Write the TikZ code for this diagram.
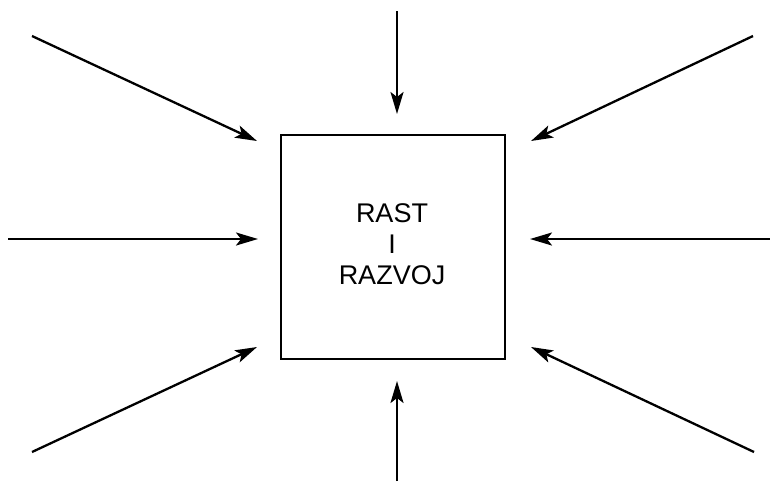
\documentclass[tikz,border=0pt]{standalone}
\usepackage{fontspec}
\setmainfont{Liberation Sans}
\usetikzlibrary{arrows.meta}
\begin{document}
\begin{tikzpicture}[x=1pt,y=-1pt,
  arr/.style={line width=2.3pt,-{Stealth[length=22pt,width=13pt,inset=5pt]}},
  box/.style={draw,line width=2.4pt,minimum width=224pt,minimum height=224pt,inner sep=0pt},
  lbl/.style={font=\fontsize{27}{31}\selectfont,align=center,inner sep=0pt}]
\useasboundingbox (0,0) rectangle (770,483);
\node[box] (b) at (393,247) {};
\node[lbl] (t) at (392,244) {RAST\\I\\RAZVOJ};
\coordinate (s1) at (32,36);   \coordinate (t1) at (257,141);
\coordinate (s2) at (397,11);  \coordinate (t2) at (397,114);
\coordinate (s3) at (753,36);  \coordinate (t3) at (531,141);
\coordinate (s4) at (8,239);   \coordinate (t4) at (258,239);
\coordinate (s5) at (770,239); \coordinate (t5) at (530,239);
\coordinate (s6) at (32,452);  \coordinate (t6) at (257,347);
\coordinate (s7) at (397,481); \coordinate (t7) at (397,381);
\coordinate (s8) at (754,452); \coordinate (t8) at (531,347);
\foreach \i in {1,...,8} {\draw[arr] (s\i) -- (t\i);}
\end{tikzpicture}
\end{document}
